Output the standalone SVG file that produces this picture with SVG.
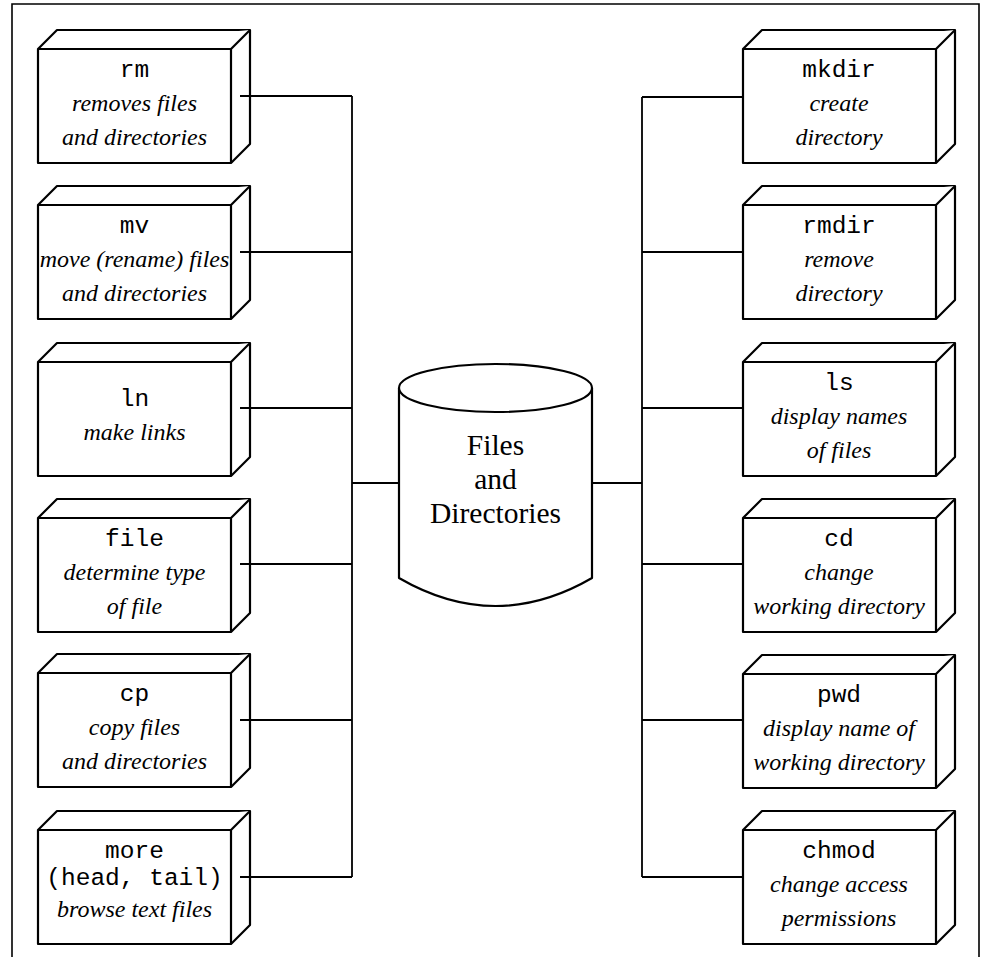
<svg xmlns="http://www.w3.org/2000/svg" width="989" height="957" viewBox="0 0 989 957">
  <defs>
    <!-- 3-D command box: front face 193x114 with side and top faces offset by 19 -->
    <g id="box">
      <path class="face" d="M0,0 L19,-19 L212,-19 L212,95 L193,114 L0,114 Z"/>
      <path class="face" d="M0,0 L193,0 L212,-19 M193,0 L193,114"/>
    </g>
  </defs>
  <style>
    .face { fill: #ffffff; stroke: #000000; stroke-width: 2.2; stroke-linejoin: round; }
    .wire { fill: none; stroke: #000000; stroke-width: 1.8; }
    .frame { fill: none; stroke: #000000; stroke-width: 1.6; }
    .cmd { font-family: "Liberation Mono", "Courier New", monospace; font-size: 24.5px; text-anchor: middle; fill: #000; }
    .desc { font-family: "Liberation Serif", "Times New Roman", serif; font-style: italic; font-size: 24px; text-anchor: middle; fill: #000; }
    .db { font-family: "Liberation Serif", "Times New Roman", serif; font-size: 29.5px; text-anchor: middle; fill: #000; }
  </style>
  <rect width="989" height="957" fill="#ffffff"/>
  <path class="frame" d="M12,957 L12,4 L979,4 L979,957"/>

  <!-- central store -->
  <g id="files-and-directories">
    <path class="face" d="M399,388 L399,578 Q495.5,634 592,578 L592,388"/>
    <ellipse class="face" cx="495.5" cy="388" rx="96.5" ry="24"/>
    <text class="db" x="495.5" y="455">Files</text>
    <text class="db" x="495.5" y="489">and</text>
    <text class="db" x="495.5" y="523">Directories</text>
  </g>

  <!-- left column -->
  <g id="rm">
    <use href="#box" x="38" y="49"/>
    <text class="cmd" x="134.5" y="77">rm</text>
    <text class="desc" x="134.5" y="111">removes files</text>
    <text class="desc" x="134.5" y="145">and directories</text>
  </g>
  <g id="mv">
    <use href="#box" x="38" y="205"/>
    <text class="cmd" x="134.5" y="233">mv</text>
    <text class="desc" x="134.5" y="267">move (rename) files</text>
    <text class="desc" x="134.5" y="301">and directories</text>
  </g>
  <g id="ln">
    <use href="#box" x="38" y="362"/>
    <text class="cmd" x="134.5" y="406">ln</text>
    <text class="desc" x="134.5" y="440">make links</text>
  </g>
  <g id="file">
    <use href="#box" x="38" y="518"/>
    <text class="cmd" x="134.5" y="546">file</text>
    <text class="desc" x="134.5" y="580">determine type</text>
    <text class="desc" x="134.5" y="614">of file</text>
  </g>
  <g id="cp">
    <use href="#box" x="38" y="673"/>
    <text class="cmd" x="134.5" y="701">cp</text>
    <text class="desc" x="134.5" y="735">copy files</text>
    <text class="desc" x="134.5" y="769">and directories</text>
  </g>
  <g id="more">
    <use href="#box" x="38" y="830"/>
    <text class="cmd" x="134.5" y="858">more</text>
    <text class="cmd" x="134.5" y="885">(head, tail)</text>
    <text class="desc" x="134.5" y="917">browse text files</text>
  </g>

  <!-- right column -->
  <g id="mkdir">
    <use href="#box" x="743" y="49"/>
    <text class="cmd" x="839" y="77">mkdir</text>
    <text class="desc" x="839" y="111">create</text>
    <text class="desc" x="839" y="145">directory</text>
  </g>
  <g id="rmdir">
    <use href="#box" x="743" y="205"/>
    <text class="cmd" x="839" y="233">rmdir</text>
    <text class="desc" x="839" y="267">remove</text>
    <text class="desc" x="839" y="301">directory</text>
  </g>
  <g id="ls">
    <use href="#box" x="743" y="362"/>
    <text class="cmd" x="839" y="390">ls</text>
    <text class="desc" x="839" y="424">display names</text>
    <text class="desc" x="839" y="458">of files</text>
  </g>
  <g id="cd">
    <use href="#box" x="743" y="518"/>
    <text class="cmd" x="839" y="546">cd</text>
    <text class="desc" x="839" y="580">change</text>
    <text class="desc" x="839" y="614">working directory</text>
  </g>
  <g id="pwd">
    <use href="#box" x="743" y="674"/>
    <text class="cmd" x="839" y="702">pwd</text>
    <text class="desc" x="839" y="736">display name of</text>
    <text class="desc" x="839" y="770">working directory</text>
  </g>
  <g id="chmod">
    <use href="#box" x="743" y="830"/>
    <text class="cmd" x="839" y="858">chmod</text>
    <text class="desc" x="839" y="892">change access</text>
    <text class="desc" x="839" y="926">permissions</text>
  </g>

  <!-- connectors: left stubs start on the side faces, so they sit above the boxes -->
  <g id="connectors">
    <path class="wire" d="M240,96 H352 M240,252 H352 M240,408 H352 M240,564 H352 M240,720 H352 M240,877 H352 M352,96 V877 M352,483 H399"/>
    <path class="wire" d="M743,97 H642 M743,252 H642 M743,408 H642 M743,564 H642 M743,720 H642 M743,877 H642 M642,97 V877 M592,483 H642"/>
  </g>
</svg>
